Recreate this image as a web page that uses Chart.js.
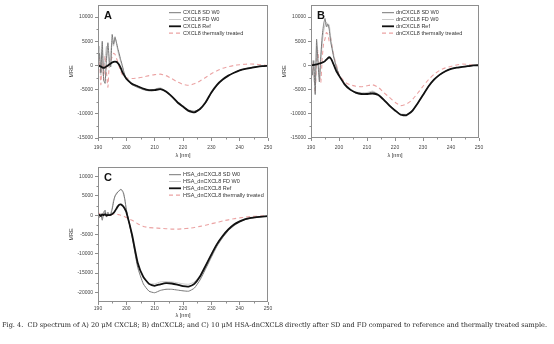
<!DOCTYPE html>
<html>
<head>
<meta charset="utf-8">
<script src="https://cdn.jsdelivr.net/npm/chart.js@4.4.1/dist/chart.umd.min.js"></script>
<style>
  body { margin: 0; background: #fff; width: 554px; height: 344px; position: relative; overflow: hidden; }
  canvas { position: absolute; }
  #caption { position: absolute; left: 2px; top: 321px; font-family: 'DejaVu Serif', serif; font-size: 6.55px; color: #222; white-space: nowrap; }
</style>
</head>
<body>
<canvas id="chartA" width="280" height="165" style="left:0;top:0"></canvas>
<canvas id="chartB" width="284" height="165" style="left:270px;top:0"></canvas>
<canvas id="chartC" width="280" height="160" style="left:0;top:162px"></canvas>
<div id="caption">Fig. 4.&nbsp; CD spectrum of A) 20 μM CXCL8; B) dnCXCL8; and C) 10 μM HSA-dnCXCL8 directly after SD and FD compared to reference and thermally treated sample.</div>
<script>
// wavelength grid (nm): 0.5 nm steps in the noisy far-UV part, 2 nm after that
const lambda = [190, 190.5, 191, 191.5, 192, 192.5, 193, 193.5, 194, 194.5,
  195, 195.5, 196, 196.5, 197, 197.5, 198, 198.5, 199, 199.5,
  200, 202, 204, 206, 208, 210, 212, 214, 216, 218, 220, 222, 224, 226, 228,
  230, 232, 234, 236, 238, 240, 242, 244, 246, 248, 250];

// A) CXCL8
const cxclSD = [0, 2500, -1500, 5000, -3000, -3700, 1500, 4700, 1000, -300,
  6400, 4400, 5800, 4800, 3500, 2400, 1200, 200, -1000, -2000,
  -2800, -4000, -4500, -5000, -5200, -5000, -4800, -5500, -6300, -7500, -8600, -9300, -9500, -9000, -7700,
  -5700, -4100, -2900, -2100, -1500, -1000, -700, -450, -250, -150, 0];
const cxclFD = [500, 4000, -2000, 3000, -1000, 1500, 4000, 2000, -500, 3000,
  5000, 4000, 6000, 4500, 3000, 1800, 800, -200, -1300, -2200,
  -3000, -3900, -4600, -4900, -5300, -4900, -4600, -5300, -6200, -7400, -8700, -9200, -9400, -9100, -7800,
  -5800, -4200, -3000, -2200, -1500, -1000, -650, -400, -250, -100, 0];
const cxclRef = [0, -100, -200, -400, -500, -400, -200, 0, 200, 400,
  600, 750, 800, 750, 500, 100, -500, -1200, -1800, -2300,
  -2700, -3800, -4300, -4800, -5100, -5100, -4900, -5400, -6400, -7600, -8500, -9400, -9700, -9000, -7600,
  -5600, -4000, -2900, -2100, -1500, -1000, -700, -500, -300, -150, -50];
const cxclHeat = [-2000, 1500, -4000, 800, -3000, 2000, -1500, -4500, 500, 1000,
  1800, 2500, 2300, 1500, 700, -300, -1200, -1800, -2300, -2500,
  -2600, -2700, -2600, -2400, -2100, -1900, -1800, -2100, -2700, -3400, -3900, -4100, -3800, -3200, -2500,
  -1700, -1100, -600, -250, 0, 150, 250, 300, 250, 100, 0];

// B) dnCXCL8
const dnSD = [500, -2000, 1000, -6000, 5400, 500, -3400, 2000, 6000, 8500,
  9700, 8000, 8600, 7500, 5000, 3500, 2000, 800, -300, -1100,
  -2000, -3800, -5000, -5700, -5800, -5800, -5500, -6000, -7000, -8200, -9200, -10100, -10200, -9400, -7900,
  -6100, -4300, -3000, -2000, -1200, -700, -450, -300, -150, 0, 0];
const dnFD = [0, 1000, -3000, -4000, 4000, 1500, -2500, 1000, 4500, 7000,
  8500, 9000, 8000, 8400, 6000, 4000, 2500, 1000, 0, -1000,
  -2200, -3700, -4800, -5500, -5600, -5600, -5300, -5900, -7000, -8300, -9300, -10000, -10100, -9600, -8000,
  -6000, -4200, -2900, -1900, -1200, -700, -400, -250, -100, 0, 0];
const dnRef = [0, 50, 100, 150, 200, 300, 400, 500, 600, 700,
  900, 1200, 1500, 1700, 1500, 1000, 300, -400, -1100, -1600,
  -2100, -3900, -5000, -5600, -5900, -5900, -5800, -6100, -7100, -8300, -9300, -10200, -10300, -9500, -7900,
  -6100, -4300, -2900, -1900, -1200, -700, -450, -300, -150, 0, 50];
const dnHeat = [-4500, 500, -1000, -5500, 1000, 3000, -2000, -3500, 1500, 4500,
  5500, 6800, 6500, 5000, 5700, 4000, 2500, 1200, 300, -800,
  -1800, -3400, -4000, -4300, -4400, -4200, -4000, -4500, -5600, -6600, -7600, -8300, -8000, -7200, -5800,
  -4300, -2900, -1800, -1000, -500, -200, 100, 300, 200, 100, 0];

// C) HSA-dnCXCL8
const hsaSD = [0, -600, 300, -1300, 500, 1300, -300, 800, 0, 300,
  1500, 3500, 5000, 5500, 6000, 6300, 6700, 6500, 5800, 4000,
  1500, -5500, -13500, -17800, -19700, -20100, -19500, -19200, -19200, -19400, -19600, -19700, -18900, -16800, -13900,
  -10900, -8000, -5800, -4000, -2700, -1800, -1100, -750, -500, -350, -250];
const hsaFD = [200, -300, 500, -800, 1000, 300, -500, 500, 200, 600,
  2000, 4000, 4800, 5800, 6000, 6500, 6600, 6300, 5500, 3800,
  1300, -5200, -12600, -16300, -17700, -17800, -17300, -17200, -17300, -17500, -17800, -17900, -17300, -15600, -12900,
  -10000, -7300, -5200, -3600, -2400, -1600, -1000, -700, -500, -350, -250];
const hsaRef = [0, 100, -200, 200, 0, 300, -100, 100, 0, 100,
  300, 600, 1100, 1700, 2300, 2700, 2800, 2600, 2200, 1600,
  800, -5000, -12300, -16000, -17800, -18300, -17900, -17600, -17700, -18000, -18400, -18500, -17800, -15900, -13100,
  -10200, -7500, -5400, -3700, -2400, -1600, -1000, -700, -500, -350, -250];
const hsaHeat = [0, 500, -500, 300, -300, 200, 0, -200, 0, 100,
  200, 300, 300, 300, 200, 100, 0, -100, -200, -400,
  -600, -1300, -2200, -2900, -3200, -3300, -3400, -3500, -3600, -3600, -3500, -3400, -3200, -2900, -2600,
  -2200, -1900, -1500, -1200, -900, -700, -500, -350, -250, -150, -100];

const xTicks = [190, 200, 210, 220, 230, 240, 250];
const yTicksAB = [-15000, -10000, -5000, 0, 5000, 10000];
const yTicksC = [-20000, -15000, -10000, -5000, 0, 5000, 10000];

const FONT = '"Liberation Sans", Arial, sans-serif';
const FRAME = '#8e8e8e';

// frame, minor ticks, panel letter, in-plot legend and axis titles
const panelDecor = {
  id: 'panelDecor',
  afterDraw(chart, args, opts) {
    const { ctx, chartArea: a, scales } = chart;
    ctx.save();
    ctx.strokeStyle = FRAME;
    ctx.lineWidth = 1;
    ctx.strokeRect(Math.round(a.left) + 0.5, Math.round(a.top) + 0.5,
      Math.round(a.right - a.left) - 1, Math.round(a.bottom - a.top) - 1);

    ctx.beginPath();
    for (let v = 195; v < 250; v += 10) {
      const px = Math.round(scales.x.getPixelForValue(v)) + 0.5;
      ctx.moveTo(px, a.bottom); ctx.lineTo(px, a.bottom + 1.5);
    }
    const ys = opts.yMinor;
    for (let i = 0; i < ys.length; i++) {
      const py = Math.round(scales.y.getPixelForValue(ys[i])) + 0.5;
      ctx.moveTo(a.left, py); ctx.lineTo(a.left - 1.5, py);
    }
    ctx.stroke();

    ctx.fillStyle = '#111';
    ctx.font = 'bold 11px ' + FONT;
    ctx.textAlign = 'left';
    ctx.textBaseline = 'alphabetic';
    ctx.fillText(opts.letter, a.left + 6, a.top + 14);

    ctx.font = '5.5px ' + FONT;
    ctx.textBaseline = 'middle';
    chart.data.datasets.forEach((ds, i) => {
      const y = a.top + 7.7 + i * 6.8;
      const x0 = a.left + 71;
      ctx.beginPath();
      ctx.strokeStyle = ds.borderColor;
      ctx.lineWidth = ds.borderWidth;
      ctx.setLineDash(ds.borderDash || []);
      ctx.moveTo(x0, y); ctx.lineTo(x0 + 12, y);
      ctx.stroke();
      ctx.setLineDash([]);
      ctx.fillStyle = '#333';
      ctx.fillText(ds.label, x0 + 14, y);
    });

    ctx.fillStyle = '#333';
    ctx.font = '5.5px ' + FONT;
    ctx.textAlign = 'center';
    ctx.fillText('λ [nm]', (a.left + a.right) / 2, a.bottom + opts.xTitleGap);
    ctx.translate(a.left - 27, (a.top + a.bottom) / 2);
    ctx.rotate(-Math.PI / 2);
    ctx.fillText('MRE', 0, 0);
    ctx.restore();
  }
};

function series(label, values, kind) {
  const styles = {
    sd:   { borderColor: '#777777', borderWidth: 1 },
    fd:   { borderColor: '#bdbdbd', borderWidth: 0.8 },
    ref:  { borderColor: '#111111', borderWidth: 1.8 },
    heat: { borderColor: '#eba3a3', borderWidth: 1.1, borderDash: [4, 3] }
  };
  return Object.assign({
    label: label,
    data: lambda.map((x, i) => ({ x: x, y: values[i] })),
    pointRadius: 0,
    tension: 0.15,
    fill: false
  }, styles[kind]);
}

function panel(id, cfg) {
  const canvas = document.getElementById(id);
  const tickFont = { family: FONT, size: 5 };
  return new Chart(canvas, {
    type: 'line',
    data: { datasets: cfg.datasets },
    options: {
      responsive: false,
      animation: false,
      devicePixelRatio: 1,
      layout: { padding: { left: 0, right: cfg.padRight, top: 3, bottom: 0 } },
      plugins: {
        legend: { display: false },
        tooltip: { enabled: false },
        panelDecor: { letter: cfg.letter, yMinor: cfg.yMinor, xTitleGap: cfg.xTitleGap }
      },
      scales: {
        x: {
          type: 'linear', min: 190, max: 250,
          afterBuildTicks: s => { s.ticks = xTicks.map(v => ({ value: v })); },
          afterFit: s => { s.height = cfg.xHeight; },
          ticks: { font: tickFont, color: '#444', padding: cfg.xPad, maxRotation: 0, callback: v => String(v) },
          grid: { drawOnChartArea: false, tickLength: 3, color: FRAME },
          border: { display: false }
        },
        y: {
          type: 'linear', min: cfg.yMin, max: cfg.yMax,
          afterBuildTicks: s => { s.ticks = cfg.yTicks.map(v => ({ value: v })); },
          afterFit: s => { s.width = cfg.yWidth; },
          ticks: { font: tickFont, color: '#444', padding: 2, callback: v => String(v) },
          grid: { drawOnChartArea: false, tickLength: 3, color: FRAME },
          border: { display: false }
        }
      }
    },
    plugins: [panelDecor]
  });
}

// series are given in legend order and drawn with the reference line on top
panel('chartA', {
  letter: 'A', yMin: -15000, yMax: 12500, yTicks: yTicksAB,
  yMinor: [-12500, -7500, -2500, 2500, 7500],
  yWidth: 98, padRight: 12, xHeight: 27, xTitleGap: 17, xPad: 4,
  datasets: [
    series('CXCL8 SD W0', cxclSD, 'sd'),
    series('CXCL8 FD W0', cxclFD, 'fd'),
    Object.assign(series('CXCL8 Ref', cxclRef, 'ref'), { order: -1 }),
    series('CXCL8 thermally treated', cxclHeat, 'heat')
  ]
});

panel('chartB', {
  letter: 'B', yMin: -15000, yMax: 12500, yTicks: yTicksAB,
  yMinor: [-12500, -7500, -2500, 2500, 7500],
  yWidth: 41, padRight: 75, xHeight: 27, xTitleGap: 17, xPad: 4,
  datasets: [
    series('dnCXCL8 SD W0', dnSD, 'sd'),
    series('dnCXCL8 FD W0', dnFD, 'fd'),
    Object.assign(series('dnCXCL8 Ref', dnRef, 'ref'), { order: -1 }),
    series('dnCXCL8 thermally treated', dnHeat, 'heat')
  ]
});

panel('chartC', {
  letter: 'C', yMin: -22500, yMax: 12500, yTicks: yTicksC,
  yMinor: [-17500, -12500, -7500, -2500, 2500, 7500],
  yWidth: 98, padRight: 12, xHeight: 20, xTitleGap: 13, xPad: 1,
  datasets: [
    series('HSA_dnCXCL8 SD W0', hsaSD, 'sd'),
    series('HSA_dnCXCL8 FD W0', hsaFD, 'fd'),
    Object.assign(series('HSA_dnCXCL8 Ref', hsaRef, 'ref'), { order: -1 }),
    series('HSA_dnCXCL8 thermally treated', hsaHeat, 'heat')
  ]
});
</script>
</body>
</html>
